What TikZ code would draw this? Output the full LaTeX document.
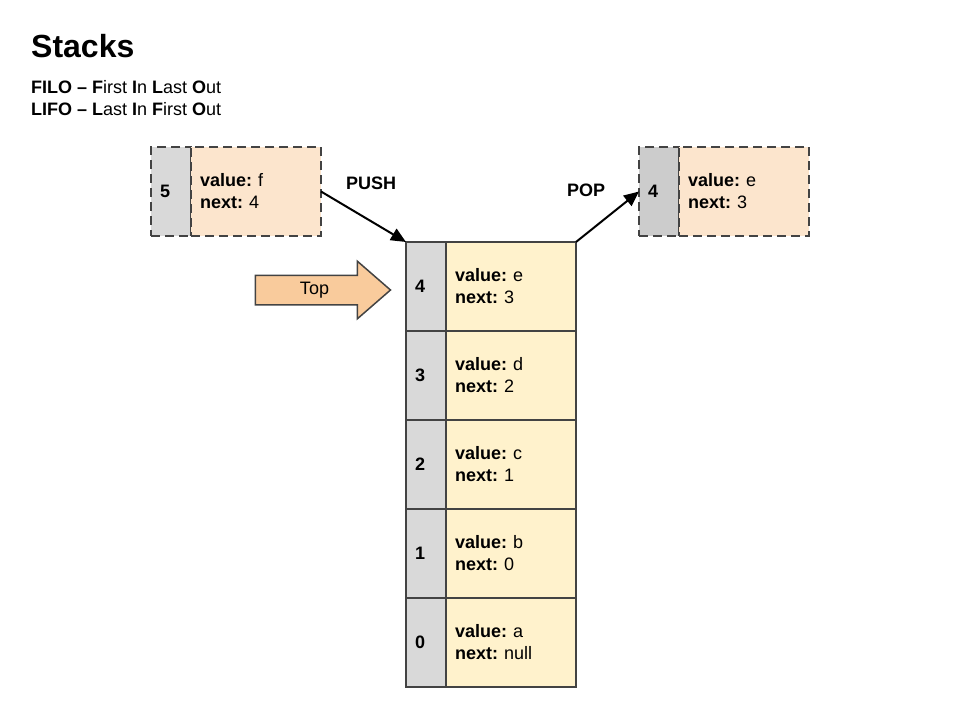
\documentclass[tikz,border=0pt]{standalone}
\usepackage{fontspec}
\setmainfont{Liberation Sans}
\usetikzlibrary{arrows.meta,shapes.arrows}
\definecolor{edge}{HTML}{434343}
\definecolor{idxgray}{HTML}{D9D9D9}
\definecolor{idxdark}{HTML}{CCCCCC}
\definecolor{valyellow}{HTML}{FFF2CC}
\definecolor{valorange}{HTML}{FCE5CD}
\definecolor{toporange}{HTML}{F9CB9C}
\frenchspacing
\newcommand{\bodyfont}{\fontsize{18}{22}\selectfont}
\tikzset{
  idxcell/.style={draw=edge, line width=2pt, fill=idxgray, minimum width=40pt, minimum height=89pt, outer sep=0pt,
    text width=22pt, inner xsep=9pt, align=left, anchor=north west, font=\bodyfont\bfseries},
  valcell/.style={draw=edge, line width=2pt, fill=valyellow, minimum width=130pt, minimum height=89pt, outer sep=0pt,
    text width=112pt, inner xsep=9pt, align=left, anchor=north west, font=\bodyfont},
  dashedcell/.style={dash pattern=on 9pt off 5pt},
  link/.style={draw=black, line width=2pt, -{Triangle[length=15pt,width=13pt]}},
  lab/.style={font=\bodyfont\bfseries},
  toparrow/.style={shape=single arrow, draw=edge, line width=1.5pt, fill=toporange, minimum height=135pt,
    text height=12pt, text depth=4pt, inner ysep=6pt, single arrow head extend=14pt,
    single arrow tip angle=82, single arrow head indent=0pt, font=\bodyfont},
}

\begin{document}
\begin{tikzpicture}[x=1pt,y=-1pt]
\useasboundingbox (0,0) rectangle (960,720);

% Title
\node[anchor=base west, inner sep=0pt, font=\fontsize{32}{38}\selectfont\bfseries] (title) at (31,57) {Stacks};
\node[anchor=base west, inner sep=0pt, font=\bodyfont] (filo) at (31,93)
  {\textbf{FILO -- F}irst \textbf{I}n \textbf{L}ast \textbf{O}ut};
\node[anchor=base west, inner sep=0pt, font=\bodyfont] (lifo) at (31,115)
  {\textbf{LIFO -- L}ast \textbf{I}n \textbf{F}irst \textbf{O}ut};

% Stack
\foreach \i/\v/\n in {4/e/3,3/d/2,2/c/1,1/b/0,0/a/null}{
  \node[idxcell] (idx\i) at (406,{242+89*(4-\i)}) {\i};
  \node[valcell] (val\i) at (idx\i.north east) {\textbf{value:} \v\\\textbf{next:} \n};
}

% Pushed node
\node[idxcell, dashedcell] (pushidx) at (151,147) {5};
\node[valcell, dashedcell, fill=valorange] (pushval) at (pushidx.north east) {\textbf{value:} f\\\textbf{next:} 4};

% Popped node
\node[idxcell, dashedcell, fill=idxdark] (popidx) at (639,147) {4};
\node[valcell, dashedcell, fill=valorange] (popval) at (popidx.north east) {\textbf{value:} e\\\textbf{next:} 3};

% Arrows
\draw[link] (pushval.east) -- (idx4.north west);
\draw[link] (val4.north east) -- (popidx.west);
\node[lab] (pushlab) at (371,183) {PUSH};
\node[lab] (poplab) at (586,190) {POP};

\node[toparrow] (top) at (314.5,290) {Top};
\end{tikzpicture}
\end{document}
